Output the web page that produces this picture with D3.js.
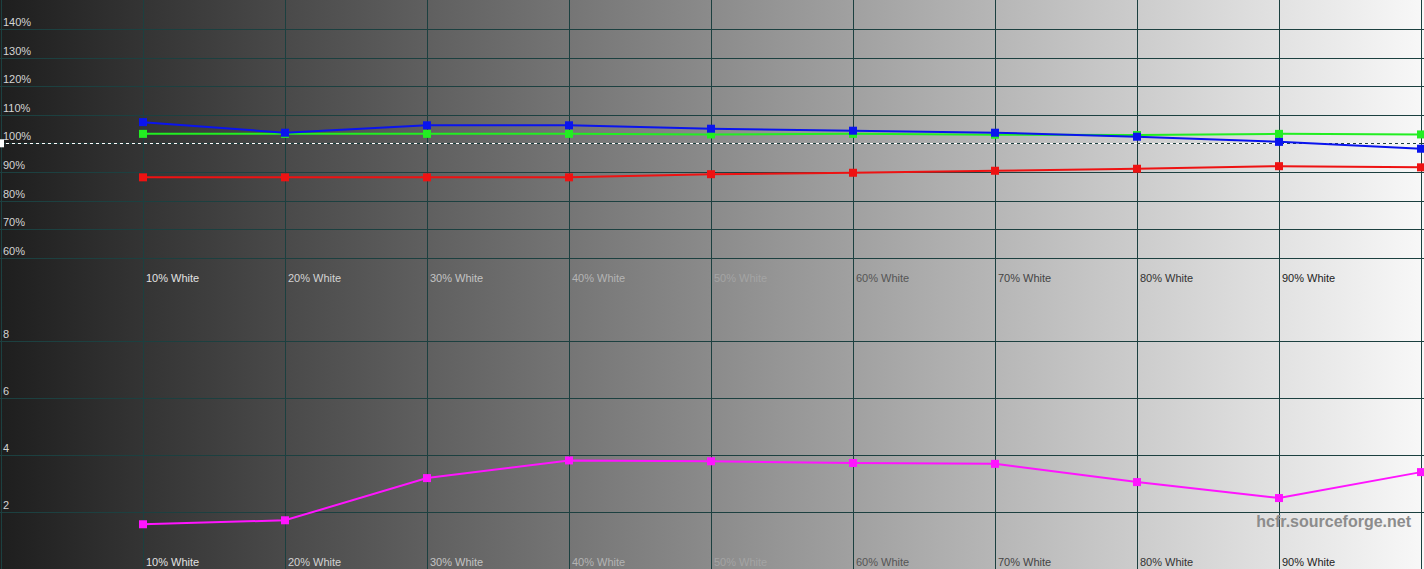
<!DOCTYPE html>
<html>
<head>
<meta charset="utf-8">
<script src="https://cdn.jsdelivr.net/npm/d3@7"></script>
<style>
  html, body { margin: 0; padding: 0; background: #1e1e1e; overflow: hidden; }
  svg { display: block; font-family: "Liberation Sans", Arial, sans-serif; }
</style>
</head>
<body>
<svg id="chart" width="1424" height="569"></svg>
<script>
// gray steps along the x axis (percent)
const steps = [10, 20, 30, 40, 50, 60, 70, 80, 90, 100];
const stepLabels = ["10% White", "20% White", "30% White", "40% White", "50% White",
                    "60% White", "70% White", "80% White", "90% White"];

// RGB levels (%)
const redLevels   = [88.1, 88.1, 88.1, 88.1, 89.2, 89.7, 90.4, 91.1, 92.0, 91.6];
const greenLevels = [103.3, 103.3, 103.3, 103.3, 103.1, 103.3, 103.0, 102.9, 103.3, 103.1];
const blueLevels  = [107.4, 103.7, 106.3, 106.3, 105.1, 104.4, 103.7, 102.3, 100.5, 98.1];

// delta E per step
const deltaE = [1.58, 1.72, 3.20, 3.82, 3.79, 3.73, 3.70, 3.06, 2.50, 3.41];

const rgbTicks = [60, 70, 80, 90, 100, 110, 120, 130, 140];
const deTicks  = [2, 4, 6, 8];

const W = 1424, H = 569;
const svg = d3.select("#chart");

// 背景渐变
const defs = svg.append("defs");
const grad = defs.append("linearGradient").attr("id", "bg")
  .attr("x1", "0%").attr("x2", "100%").attr("y1", "0%").attr("y2", "0%");
grad.append("stop").attr("offset", "0%").attr("stop-color", "#1e1e1e");
grad.append("stop").attr("offset", "100%").attr("stop-color", "#f8f8f8");
svg.append("rect").attr("width", W).attr("height", H).attr("fill", "url(#bg)");

// scales
const x  = d3.scaleLinear().domain([0, 100]).range([1, 1421]);
const yT = d3.scaleLinear().domain([100, 140]).range([143.3, 28.9]);   // top: RGB %
const yB = d3.scaleLinear().domain([0, 8]).range([569.3, 341.3]);     // bottom: delta E

const GRID = "#1c4040";

// horizontal grid
svg.append("g").selectAll("line").data(rgbTicks).join("line")
  .attr("x1", 0).attr("x2", W)
  .attr("y1", d => Math.round(yT(d)) + 0.5).attr("y2", d => Math.round(yT(d)) + 0.5)
  .attr("stroke", GRID);
svg.append("g").selectAll("line").data(deTicks).join("line")
  .attr("x1", 0).attr("x2", W)
  .attr("y1", d => Math.round(yB(d)) + 0.5).attr("y2", d => Math.round(yB(d)) + 0.5)
  .attr("stroke", GRID);

// vertical grid
svg.append("g").selectAll("line").data(d3.range(0, 101, 10)).join("line")
  .attr("x1", d => Math.round(x(d)) + 0.5).attr("x2", d => Math.round(x(d)) + 0.5)
  .attr("y1", 0).attr("y2", H)
  .attr("stroke", GRID);

// y labels
svg.append("g").selectAll("text").data(rgbTicks).join("text")
  .attr("x", 3).attr("y", d => yT(d) - 3)
  .attr("font-size", 11).attr("fill", "#d4d4d4")
  .text(d => d + "%");
svg.append("g").selectAll("text").data(deTicks).join("text")
  .attr("x", 3).attr("y", d => yB(d) - 3)
  .attr("font-size", 11).attr("fill", "#d4d4d4")
  .text(d => d);

// x labels (颜色随背景变化)
const lightCol = d3.interpolateRgb("#e2e2e2", "#a4a4a4");
const darkCol  = d3.interpolateRgb("#555555", "#222222");
function labelColor(i) {
  return i < 5 ? lightCol(i / 4) : darkCol((i - 5) / 3);
}
[282, 566].forEach(base => {
  svg.append("g").selectAll("text").data(stepLabels).join("text")
    .attr("x", (d, i) => x(steps[i]) + 3)
    .attr("y", base)
    .attr("font-size", 11)
    .attr("fill", (d, i) => labelColor(i))
    .text(d => d);
});

// 100% reference (dashed)
svg.append("line")
  .attr("x1", 0).attr("x2", 1421)
  .attr("y1", Math.round(yT(100)) + 0.5).attr("y2", Math.round(yT(100)) + 0.5)
  .attr("stroke", "#ffffff").attr("stroke-dasharray", "3,3");
svg.append("rect")
  .attr("x", 0).attr("y", yT(100) - 4).attr("width", 4).attr("height", 8)
  .attr("fill", "#ffffff");

// series
function drawSeries(values, yScale, color) {
  const pts = values.map((v, i) => [x(steps[i]), yScale(v)]);
  svg.append("path")
    .attr("d", d3.line()(pts))
    .attr("fill", "none").attr("stroke", color).attr("stroke-width", 2);
  svg.append("g").selectAll("rect").data(pts).join("rect")
    .attr("x", d => d[0] - 4).attr("y", d => d[1] - 4)
    .attr("width", 8).attr("height", 8)
    .attr("fill", color);
}
drawSeries(redLevels,   yT, "#ee1212");
drawSeries(greenLevels, yT, "#22ee22");
drawSeries(blueLevels,  yT, "#0a14ee");
drawSeries(deltaE,      yB, "#ff14ff");

// watermark
svg.append("text")
  .attr("x", 1411).attr("y", 527)
  .attr("text-anchor", "end")
  .attr("font-size", 16).attr("font-weight", "bold")
  .attr("fill", "#8c8c8c")
  .text("hcfr.sourceforge.net");
</script>
</body>
</html>
